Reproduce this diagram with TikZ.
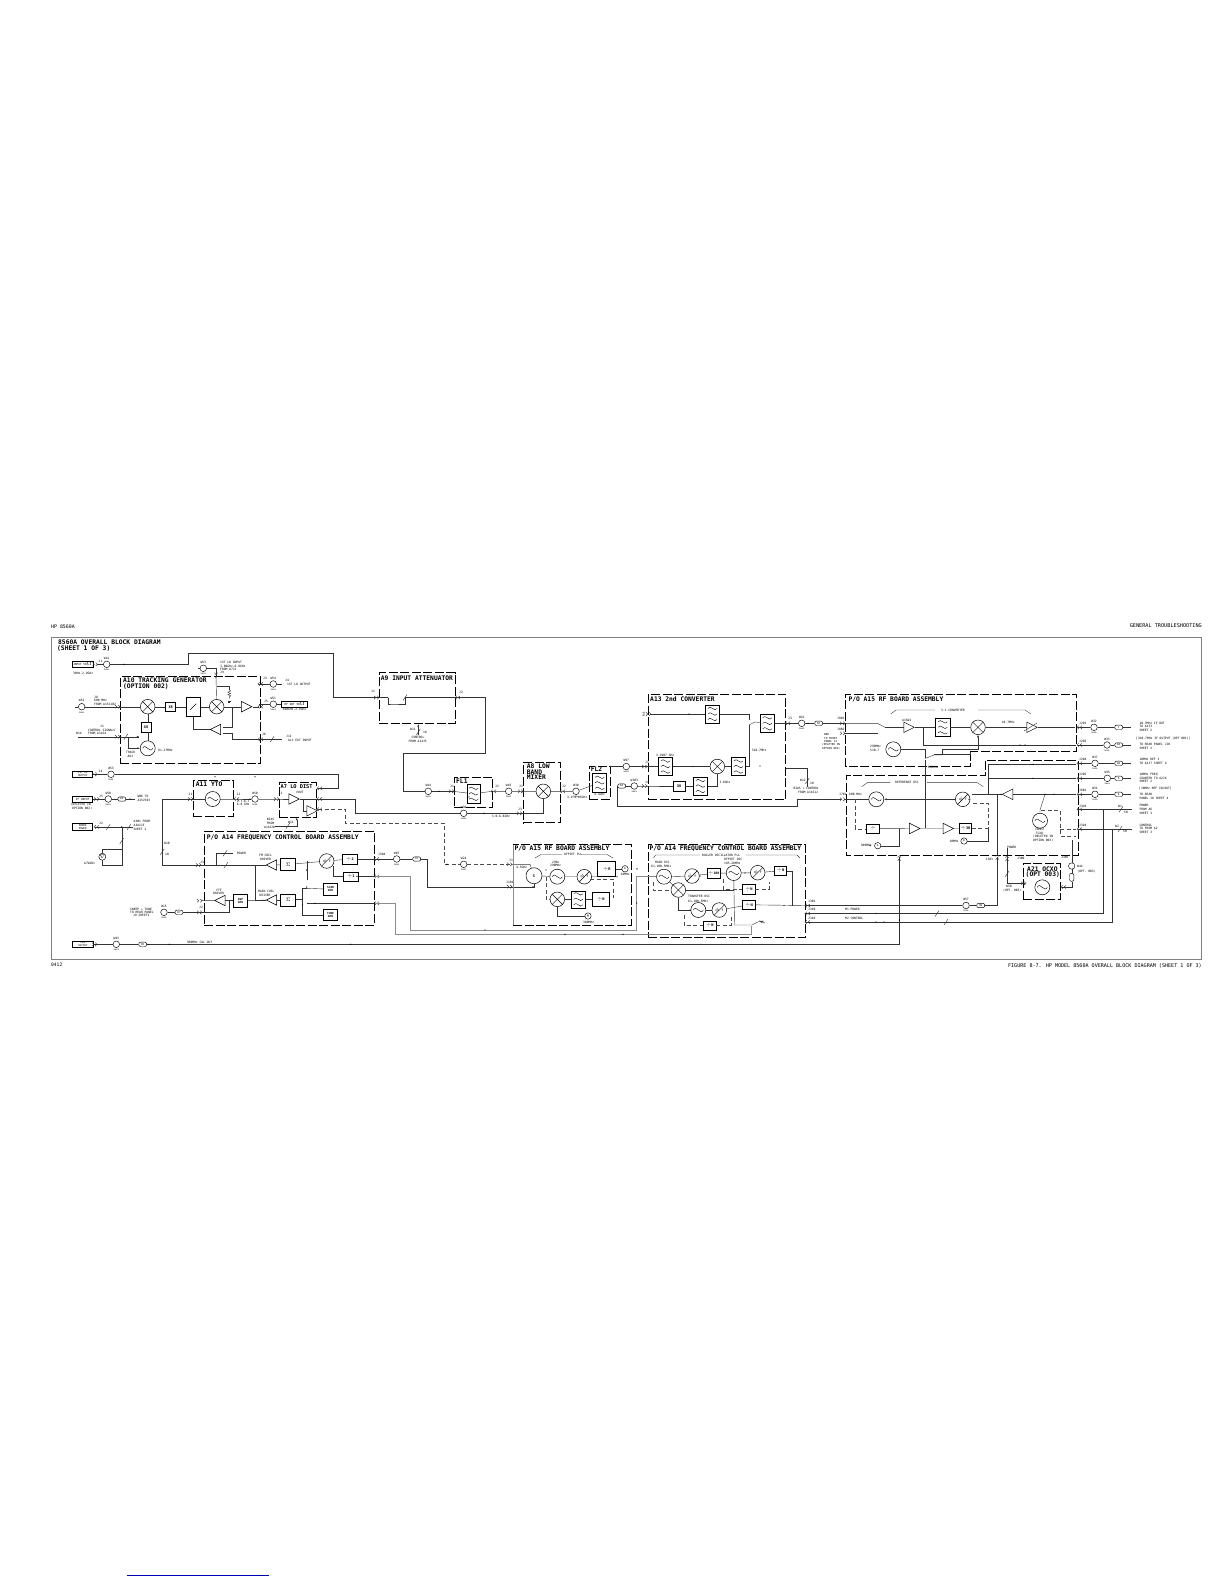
\documentclass[tikz,border=0pt]{standalone}
\usepackage{fontspec}
\setmainfont{DejaVu Sans Mono}
\usetikzlibrary{positioning,shapes.geometric,arrows.meta}

\tikzset{
  lbl/.style={font=\fontsize{3}{3.7}\selectfont,inner sep=0pt,align=left,anchor=west},
  head/.style={font=\bfseries\fontsize{6.3}{6.4}\selectfont,inner sep=0pt,anchor=west},
  sig/.style={line width=.4pt,black!80},
  gsig/.style={line width=.9pt,black!45},
  ctl/.style={line width=.4pt,black!70,dash pattern=on 4pt off 2.5pt},
  asm/.style={draw,line width=.8pt,dash pattern=on 9pt off 2.5pt,inner sep=0pt},
  blk/.style 2 args={draw,line width=.5pt,inner sep=0pt,minimum width=#1,minimum height=#2,font=\bfseries\fontsize{3.6}{3.8}\selectfont,align=center},
  port/.style 2 args={draw,line width=.5pt,inner sep=0pt,minimum width=#1,minimum height=#2,font=\fontsize{2.8}{3}\selectfont,align=center},
  cabl/.style={draw,circle,line width=.45pt,inner sep=0pt,minimum size=6.6pt},
  pill/.style={draw,rounded corners=2pt,line width=.45pt,inner sep=0pt,minimum width=8pt,minimum height=4.4pt,font=\fontsize{2.6}{3}\selectfont},
  mixr/.style={draw,circle,line width=.5pt,inner sep=0pt,minimum size=14.6pt,path picture={
    \draw[line width=.4pt] (path picture bounding box.north west)--(path picture bounding box.south east)
      (path picture bounding box.north east)--(path picture bounding box.south west);}},
  osc/.style={draw,circle,line width=.5pt,inner sep=0pt,minimum size=15pt,path picture={
    \draw[line width=.4pt,shift={(path picture bounding box.center)}] (-5,0) .. controls (-2.4,-6) and (2.4,6) .. (5,0);}},
  pdet/.style={draw,circle,line width=.5pt,inner sep=0pt,minimum size=14.6pt,font=\fontsize{3.4}{3.4}\selectfont,path picture={
    \draw[line width=.4pt] (path picture bounding box.south west)--(path picture bounding box.north east);}},
  filt/.style 2 args={draw,line width=.5pt,inner sep=0pt,minimum width=#1,minimum height=#2,path picture={
    \foreach \yw in {-5.5,0,5.5}{
      \draw[line width=.4pt,shift={(path picture bounding box.center)}] (-4.6,\yw) .. controls (-2,\yw-4.5) and (2,\yw+4.5) .. (4.6,\yw);}}},
  amp/.style={draw,isosceles triangle,isosceles triangle stretches,line width=.5pt,inner sep=0pt,minimum width=10.5pt,minimum height=10.5pt},
  ampl/.style={amp,shape border rotate=180},
  atag/.style={draw,circle,line width=.45pt,inner sep=0pt,minimum size=6.4pt,font=\fontsize{2.6}{3}\selectfont},
  jackpic/.pic={\draw[line width=.4pt,black!80] (-4,-1.7)--(-2.2,0)--(-4,1.7) (-.8,-1.7)--(1,0)--(-.8,1.7);}
}
\newcommand{\jack}[4]{\coordinate (#1) at (#2,#3); \pic[rotate=#4] at (#1) {jackpic};}
\newcommand{\cable}[4]{\node[cabl] (#1) at (#2,#3) {};
  \node[lbl,anchor=south,above=1.2pt of #1] (#1t) {#4};
  \node[lbl,anchor=north,below=.9pt of #1,font=\fontsize{2.2}{3}\selectfont] (#1b) {Semi};}

\begin{document}
\begin{tikzpicture}[x=1pt,y=-1pt]
\useasboundingbox (0,0) rectangle (1224,1584);

% page furniture
\node[lbl,font=\fontsize{4.9}{5}\selectfont] (hdl) at (51,626.5) {HP 8560A};
\node[lbl,font=\fontsize{5.2}{5}\selectfont,anchor=east] (hdr) at (1202,625.5) {GENERAL TROUBLESHOOTING};
\node[lbl,font=\fontsize{4.6}{5}\selectfont] (ftl) at (51,965) {0412};
\node[lbl,font=\fontsize{5.08}{5}\selectfont,anchor=east] (ftr) at (1202,966) {FIGURE 8-7. HP MODEL 8560A OVERALL BLOCK DIAGRAM (SHEET 1 OF 3)};
\draw[line width=.9pt,black!50] (51.5,637.5) rectangle (1201.7,959);
\draw[line width=1pt,blue!70!black] (127,1575.3) -- (269,1575.3);
\node[head] (ttl1) at (58,642) {8560A OVERALL BLOCK DIAGRAM};
\node[head] (ttl2) at (57,649) {(SHEET 1 OF 3)};

% assembly outlines
\node[asm,minimum width=140.3pt,minimum height=86.6pt] (a10) at (190.2,720) {};
\node[asm,minimum width=76pt,minimum height=50.6pt] (a9) at (417,698) {};
\node[asm,minimum width=40pt,minimum height=36.7pt] (a11) at (213.3,798.3) {};
\node[asm,minimum width=37.7pt,minimum height=35pt] (a7) at (297.8,800.2) {};
\node[asm,minimum width=170pt,minimum height=94pt] (a14a) at (289.3,878) {};
\node[asm,minimum width=38.4pt,minimum height=30pt] (fl1) at (473.5,792.3) {};
\node[asm,minimum width=37.4pt,minimum height=60.4pt] (a8) at (542,792.5) {};
\node[asm,minimum width=21pt,minimum height=33pt] (fl2) at (599.5,782.5) {};
\node[asm,minimum width=137.4pt,minimum height=105pt] (a13) at (717,746.8) {};
\node[asm,minimum width=117.7pt,minimum height=80.7pt] (a15a) at (572.2,884.7) {};
\node[asm,minimum width=156.7pt,minimum height=93pt] (a14b) at (726.7,890.8) {};
\node[asm,minimum width=37.4pt,minimum height=36pt] (a21) at (1042,881.3) {};
\draw[line width=.8pt,dash pattern=on 9pt off 2.5pt] (970,751.7) -- (970,766) -- (845.7,766) -- (845.7,694) -- (1076.7,694) -- (1076.7,751.7) -- cycle;
\draw[line width=.8pt,dash pattern=on 9pt off 2.5pt] (985,760.7) -- (985,775.7) -- (846,775.7) -- (846,855.7) -- (1078.3,855.7) -- (1078.3,760.7) -- cycle;

\node[head] (a10h1) at (123,680.3) {A10 TRACKING GENERATOR};
\node[head] (a10h2) at (123,687) {(OPTION 002)};
\node[head] (a9h) at (380.7,678.3) {A9 INPUT ATTENUATOR};
\node[head] (a11h) at (195.7,784) {A11 YTO};
\node[head,font=\bfseries\fontsize{5.3}{6}\selectfont] (a7h) at (280.5,786.7) {A7 LO DIST};
\node[head] (a14ah) at (206.7,837.3) {P/O A14 FREQUENCY CONTROL BOARD ASSEMBLY};
\node[head] (fl1h) at (456,781.5) {FL1};
\node[head] (a8h1) at (526.7,766.3) {A8 LOW};
\node[head] (a8h2) at (526.7,771.7) {BAND};
\node[head] (a8h3) at (526.7,777) {MIXER};
\node[head] (fl2h) at (590.7,769.5) {FL2};
\node[head] (a13h) at (650,699) {A13 2nd CONVERTER};
\node[head] (a15bh) at (848.3,699.7) {P/O A15 RF BOARD ASSEMBLY};
\node[head] (a15ah) at (514.3,848.3) {P/O A15 RF BOARD ASSEMBLY};
\node[head] (a14bh) at (649.3,849) {P/O A14 FREQUENCY CONTROL BOARD ASSEMBLY};
\node[head] (a21h1) at (1027,869) {A21 OCXO};
\node[head] (a21h2) at (1025.5,875) {(OPT 003)};

% A10 and its ports
\node[port={21pt}{5.7pt}] (rfin) at (82.5,664.3) {INPUT 50$\Omega$};
\cable{w41}{106.7}{664.3}{W41}
\jack{j1in}{96.5}{664.3}{0}
\jack{a9j1}{378}{697.5}{0}
\draw[sig] (j1in) -- (w41) -- (187.7,664.3) |- (333.3,653.3) |- (a9j1);
\node[lbl] (rfinf) at (73,673) {30Hz-2.9GHz};
\node[lbl] (j1l) at (98.5,661.5) {J1};
\node[mixr] (mx1) at (147.7,706.7) {};
\node[blk={10pt}{9.7pt}] (x8a) at (170.7,706.7) {X8};
\node[blk={14.7pt}{19.4pt},path picture={\draw[line width=.4pt] (path picture bounding box.center)++(-3,3)--++(6,-6);}] (var) at (193.3,706.7) {};
\node[mixr] (mx2) at (216.7,706.7) {};
\node[amp] (amp1) at (244.6,706.7) {};
\node[blk={10pt}{9.4pt}] (x8b) at (146,727.3) {X8};
\node[osc] (osc91) at (147.7,748.3) {};
\node[ampl] (alc) at (217.5,729.5) {};
\cable{w52}{81.7}{706.7}{W52}
\jack{j8}{119}{706.7}{0}
\jack{j9}{216}{676.7}{-90}
\jack{j3}{259}{684}{180}
\jack{j5}{259}{706.7}{180}
\jack{j6}{259}{739.3}{180}
\jack{j7}{119}{736.7}{0}
\coordinate (w52f) at (75,706.7);
\draw[sig] (w52f) -- (w52) -- (j8) -- (mx1) -- (x8a) -- (var) -- (mx2) -- (amp1) -- (j5);
\draw[sig] (mx1) -- (147.7,722.7);
\draw[sig] (147.7,732) -- (osc91);
\draw[sig] (j9) -- (mx2);
\draw[sig] (216.7,686) -| (229.3,690);
\draw[sig] (229.3,690) -- ++(1.5,1) -- ++(-3,1.2) -- ++(3,1.2) -- ++(-3,1.2) -- ++(3,1.2) -- ++(-1.5,1) -- ++(0,1.5);
\draw[sig] (227.7,701) -- ++(3.2,0) ++(-2.6,1) -- ++(2,0);
\draw[sig] (alc) -| (var);
\draw[sig] (223,726.7) -- (231.7,726.7) -- (231.7,706.7);
\draw[sig] (223,732.7) -- (231.7,732.7) -- (231.7,739.3) -- (j6);
\coordinate (w14f) at (78,736.7);
\draw[sig] (w14f) -- (j7) -- (139,736.7);
\draw[sig,-{Latex[length=2.5pt,width=2pt]}] (128.3,736.7) |- (osc91);
\draw[sig,-{Latex[length=2.5pt,width=2pt]}] (120,736.7) -- (139.3,736.7);
\node[lbl] (j8l) at (94,697.3) {J8};
\node[lbl] (j8a) at (94,700.7) {600 MHz};
\node[lbl] (j8b) at (94,704) {FROM A15J102};
\node[lbl] (j1b) at (100,726.5) {J1};
\node[lbl] (ctl1) at (88,730.3) {CONTROL SIGNALS};
\node[lbl] (ctl2) at (88,733.7) {FROM A14J4};
\node[lbl] (w14l) at (76,733.3) {W14};
\node[lbl] (trk1) at (126,752) {TRACK};
\node[lbl] (trk2) at (127.5,756) {ADJ};
\node[lbl] (f91) at (158,750) {91.27MHz};
\cable{w53}{203.3}{668.3}{W53}
\coordinate (w53f) at (198,668.3);
\draw[sig] (w53f) -- (w53) -| (j9);
\node[lbl] (lo1) at (220,662.3) {1ST LO INPUT};
\node[lbl] (lo2) at (220,666) {3.80GHz-6.8GHz};
\node[lbl] (lo3) at (220,669.7) {FROM A7J2};
\node[lbl] (j9l) at (220,672.7) {J9};
\cable{w54}{273.3}{684}{W54}
\coordinate (j4f) at (282,684);
\draw[sig] (j3) -- (w54) -- (j4f);
\node[lbl] (j3l) at (263,678) {J3};
\node[lbl] (j4l) at (285,680) {J4};
\node[lbl] (j4t) at (287,684.5) {1ST LO OUTPUT};
\node[port={26pt}{5.7pt}] (rfo) at (294.7,704.2) {RF OUT 50$\Omega$};
\cable{w51}{273.3}{704.2}{W51}
\draw[sig] (259,704.2) -- (w51) -- (rfo);
\node[lbl] (j5l) at (264,701.5) {J5};
\node[lbl] (rfof) at (282.5,709.5) {300kHz-2.9GHz};
\coordinate (j11f) at (282,739.3);
\draw[sig] (j6) -- (j11f);
\node[lbl] (j6l) at (262,734) {J6};
\node[lbl] (j11l) at (286,736) {J11};
\node[lbl] (j11t) at (288,740.3) {ALC EXT INPUT};

% A9
\coordinate (a9j2) at (456,697.5);
\jack{a9r}{456}{697.5}{180}
\jack{fl1i}{453}{791.3}{0}
\cable{w44}{428.3}{791.3}{W44}
\draw[sig] (a9j1) -- (388,697.5) (388,697.5) |- (392,704) -| (405,697.5);
\draw[sig] (405,697.5) -- (a9j2) -- (484.7,697.5) |- (403.3,753.3) |- (w44) -- (fl1i);
\node[lbl] (a9l1) at (371,691.7) {J1};
\node[lbl] (a9l2) at (459,692.5) {J2};
\coordinate (a9ct) at (418.3,735);
\draw[sig,-{Latex[length=2.5pt,width=2pt]}] (a9ct) -- (418.3,724);
\node[lbl] (w11l) at (410,729.5) {W11};
\node[lbl] (w11n) at (423,732) {16};
\node[lbl] (c1) at (411.5,737.5) {CONTROL};
\node[lbl] (c2) at (408.5,741) {FROM A14J5};

% YTO and LO distribution
\node[osc] (yto) at (212.7,799) {};
\node[amp] (amp7a) at (292,799) {};
\node[amp] (amp7b) at (310,810.8) {};
\cable{w50}{255}{799}{W50}
\jack{ytoi}{192}{799}{0}
\jack{ytoo}{235}{799}{180}
\jack{a7i}{278}{799}{0}
\jack{a7t}{318}{788.3}{180}
\jack{a7r}{318}{799}{180}
\jack{a7d}{318}{809.3}{180}
\jack{ya3}{200}{865}{0}
\draw[sig] (yto) -- (ytoo) -- (w50) -- (a7i) -- (amp7a) -- (a7r);
\draw[sig] (ytoi) -- (yto);
\draw[sig] (ya3) -| (162.3,799) -- (ytoi);
\draw[sig] (303,799) -- (303,810.8) -- (amp7b);
\draw[sig] (amp7b) -- (a7d);
\node[port={20pt}{6.7pt},font=\fontsize{2.6}{2.8}\selectfont] (lobox) at (82.7,774.3) {1ST LO\\OUTPUT};
\cable{w53b}{111}{774.3}{W53}
\draw[sig] (lobox) -- (w53b) -- (338.3,774.3) |- (a7t);
\jack{jlo}{96}{774.3}{0}
\node[lbl] (jlol) at (98.5,771) {J4};
\node[lbl] (y1) at (188.5,794.5) {J1};
\node[lbl] (y2) at (236.5,794.5) {J2};
\node[lbl] (yf1) at (236.7,801.5) {2.7-6.7};
\node[lbl] (yf2) at (236.7,804.7) {6.8 GHz};
\node[lbl] (a7j) at (278.5,793) {J1};
\node[lbl] (a7v) at (296,792) {VOUT};
\node[lbl] (wbl) at (164,843.5) {W10};
\node[lbl] (wbn) at (165,854) {10};
\node[lbl] (b1) at (266.7,819.3) {BIAS};
\node[lbl] (b2) at (266.7,823) {FROM};
\node[lbl] (b3) at (264,827) {A14J20};
\coordinate (bf) at (275,825.7);
\draw[sig,-{Latex[length=2.5pt,width=2pt]}] (bf) -| (296.7,817.7);
\node[lbl] (w11b) at (288,822.5) {W11};
% LO to the mixer and dashed drive
\cable{w30}{463.7}{813.3}{W30}
\jack{a8j3}{521}{813.3}{0}
\draw[sig] (a7r) -- (355,799) |- (w30) -- (a8j3);
\node[lbl] (w30f) at (491.7,816) {3.0-6.8GHz};
\cable{w24}{463.7}{864.3}{W24}
\jack{a15j1}{511}{864.3}{0}
\draw[ctl] (a7d) -- (345,809.3) |- (444,823) -- (444,864.3) -- (w24) -- (a15j1);

% IF input, probe power
\node[port={20pt}{6pt}] (ifin) at (82.7,799) {IF INPUT};
\cable{w50b}{108.3}{799}{W50}
\node[pill] (p80) at (121.8,799) {80};
\coordinate (iff) at (135,799);
\draw[sig] (ifin) -- (w50b) -- (p80) -- (iff);
\jack{jif}{98}{799}{0}
\node[lbl] (if1) at (137.3,796) {W06 TO};
\node[lbl] (if2) at (137.3,800) {A15J503};
\node[lbl] (if3) at (70.7,805) {(DELETED IN};
\node[lbl] (if4) at (72,809) {OPTION 002)};
\node[lbl] (ifj) at (99,796) {J5};
\node[port={20pt}{7.4pt},font=\fontsize{2.6}{2.8}\selectfont] (prb) at (82.7,826.9) {PROBE\\POWER};
\jack{jprb}{95}{826.9}{180}
\coordinate (prbf) at (132.7,826.9);
\draw[sig] (jprb) -- (prbf);
\node[lbl] (prbj) at (99,823.5) {J2};
\node[lbl] (a3a) at (133.5,821.7) {A3W1 FROM};
\node[lbl] (a3b) at (133.5,825) {A3A1J3};
\node[lbl] (a3c) at (133.5,829) {SHEET 2};
\node[draw,circle,line width=.45pt,inner sep=0pt,minimum size=7pt,font=\fontsize{3.5}{3.5}\selectfont] (dio) at (102.3,856.7) {$\nabla$};
\draw[sig] (121.7,826.9) -- (121.7,865.5) -| (dio);
\draw[sig] (121.7,849.3) -| (dio);
\node[lbl] (diol) at (84,863.3) {A7W1D1};

% A14 first part
\node[ampl] (fmdr) at (273.5,865) {};
\node[blk={15pt}{12.4pt}] (sumf) at (288.2,864.5) {$\Sigma$};
\node[pdet] (pd14) at (326.7,861) {$\phi$ f};
\node[blk={15pt}{10pt}] (div2) at (350,859) {$\div$2};
\node[blk={15pt}{9.3pt}] (div1) at (350.8,876.4) {$\div$1};
\node[ampl] (mndr) at (273.5,900) {};
\node[blk={15pt}{12.4pt}] (summ) at (288.2,900) {$\Sigma$};
\node[ampl] (ytf) at (222,900.5) {};
\node[blk={14.4pt}{12.7pt},font=\bfseries\fontsize{2.8}{3}\selectfont] (swp) at (240.5,900.5) {SWP\\GEN};
\node[blk={14.4pt}{11.7pt},font=\bfseries\fontsize{2.8}{3}\selectfont] (scan) at (330.5,889.2) {SCAN\\GEN};
\node[blk={14.4pt}{11.4pt},font=\bfseries\fontsize{2.8}{3}\selectfont] (tune) at (330.5,915) {TUNE\\GEN};
\jack{j14a}{375}{859}{180}
\jack{j14b}{375}{876.4}{180}
\jack{j14c}{375}{903.3}{180}
\jack{j14d}{201}{900.7}{0}
\jack{j14e}{201}{912.3}{0}
\draw[sig] (ya3) -- (255,865) -- (fmdr);
\draw[sig] (215.7,865) |- (233,853.3);
\coordinate (pwrf) at (233,853.3);
\node[lbl] (pwr) at (236.7,853.7) {POWER};
\draw[sig] (255,865) -- (255,900) -- (mndr);
\draw[sig] (swp) -- (mndr);
\draw[sig] (ytf) -- (j14d);
\draw[sig] (ytf) -- (swp);
\draw[sig] (j14e) -| (229,900.5);
\draw[sig] (sumf) -- (pd14);
\draw[sig] (fmdr) -- (sumf);
\draw[sig] (mndr) -- (summ);
\draw[sig] (pd14) -- (div2);
\draw[sig] (div2) -- (j14a);
\draw[sig] (div1) -- (j14b);
\draw[sig] (333,866) |- (div1);
\draw[sig] (306.7,860.7) -- (306.7,880);
\draw[sig] (306.7,888.3) -- (scan);
\draw[sig] (302.5,899) |- (306.7,888.3);
\draw[sig] (302.5,899) -- (302.5,915) -- (tune);
\draw[sig] (295.7,899) -- (302.5,899);
\draw[sig] (306.7,903.3) -- (j14c);
\node[lbl] (fm1) at (259,855.3) {FM COIL};
\node[lbl] (fm2) at (260,859) {DRIVER};
\node[lbl] (mc1) at (258,891) {MAIN COIL};
\node[lbl] (mc2) at (259.5,895) {DRIVER};
\node[lbl] (yt1) at (216,890) {YTF};
\node[lbl] (yt2) at (213,893.7) {DRIVER};
\cable{w15}{164}{912.3}{W15}
\node[pill] (p87) at (179,912.3) {87};
\draw[sig] (j14e) -- (p87) -- (w15);
\node[lbl] (sw1) at (130,909) {SWEEP + TUNE};
\node[lbl] (sw2) at (130,912.3) {TO REAR PANEL};
\node[lbl] (sw3) at (133,915.7) {J8 SHEET2};
\node[lbl] (j14l) at (199,907) {J2};
\node[lbl] (j14j) at (200,862) {J3};

% cal output line
\node[port={20.6pt}{6.3pt},font=\fontsize{2.5}{2.7}\selectfont] (cal) at (83,944.3) {CAL\\OUTPUT};
\cable{w43}{116.3}{944.3}{W43}
\node[pill] (p85) at (142.7,944.3) {85};
\draw[sig] (cal) -- (w43) -- (p85) -- (899.3,944.3) -- (899.3,856.7);
\jack{jcal}{96}{944.3}{0}
\node[lbl] (cals) at (186.7,942) {300MHz CAL OUT};

% FL1, A8, FL2
\node[filt={13pt}{19pt}] (ff1) at (473.5,793.8) {};
\node[mixr] (mx8) at (543.3,791.3) {};
\node[filt={14pt}{19pt}] (ff2) at (599.7,782.8) {};
\jack{fl1o}{492}{791.3}{180}
\cable{w45}{508.7}{791.3}{W45}
\jack{a8i}{522}{791.3}{0}
\jack{a8o}{561}{791.3}{180}
\cable{w30b}{576}{791.3}{W30}
\draw[sig] (fl1i) -- (ff1) -- (fl1o) -- (w45) -- (a8i) -- (mx8) -- (a8o) -- (w30b) -- (ff2);
\draw[sig] (a8j3) -| (mx8);
\node[lbl] (fl1a) at (450,786) {J1};
\node[lbl] (fl1b) at (495,786.5) {J2};
\node[lbl] (a8a) at (519,786) {J1};
\node[lbl] (a8b) at (562,786.5) {J2};
\node[lbl] (a8c) at (518,809) {J3};
\node[lbl] (f39) at (567,797.7) {3.9-4.05GHz};
\node[lbl] (f43) at (594,794.7) {4.3GHz};

% A13
\node[filt={13.6pt}{17.7pt}] (f13t) at (712.5,714) {};
\node[filt={13.3pt}{18pt}] (f13o) at (767.3,723.3) {};
\node[filt={13.6pt}{18.4pt}] (f13m) at (738.5,766.5) {};
\node[mixr] (mx13) at (717.3,766.5) {};
\node[filt={14.4pt}{17.7pt}] (f13i) at (665.5,766.5) {};
\node[blk={11.7pt}{9.6pt}] (x8c) at (679.2,786) {X8};
\node[filt={14.4pt}{18.4pt}] (f13l) at (700.5,786) {};
\cable{w97}{626.3}{766.5}{W97}
\jack{j13a}{646}{766.5}{0}
\jack{j13b}{646}{786}{0}
\jack{j13c}{650}{714}{0}
\node[pill] (p81) at (621.7,786) {81};
\cable{w103}{634.3}{786}{W103}
\draw[sig] (610,766.5) -- (w97) -- (j13a) -- (f13i) -- (mx13) -- (f13m);
\draw[sig] (j13c) -- (f13t) -| (749,720);
\draw[sig] (f13m) -| (749,725);
\draw[sig] (749,725) -- (755,722) -- (f13o);
\draw[sig] (p81) -- (w103) -- (j13b) -- (x8c) -- (f13l) -| (mx13);
\draw[sig] (p81) -- (617.3,786) |- (796.7,806) |- (841,799.3);
\node[lbl] (rl) at (643.8,714) [rotate=90,anchor=center] {R/L};
\node[lbl] (f1) at (656,755.7) {3.9107 GHz};
\node[lbl] (f2) at (751.7,750.3) {310.7MHz};
\node[lbl] (f3) at (719.3,782.7) {3.6GHz};
\node[lbl] (j13l) at (645,762.3) {J1};
\node[lbl] (j13m) at (645,782.3) {J4};
\cable{w31}{801.7}{723.3}{W31}
\node[pill] (p82) at (818.7,723.3) {82};
\jack{j801}{844}{723.3}{0}
\jack{j802}{844}{733.3}{0}
\jack{j13o}{786}{723.3}{180}
\draw[sig] (f13o) -- (j13o) -- (w31) -- (p82) -- (j801);
\node[lbl] (j3b) at (788,718.5) {J3};
\node[lbl] (j801l) at (837,718.5) {J801};
\node[lbl] (j802l) at (837,729.5) {J802};
\node[lbl,font=\fontsize{2.7}{3.3}\selectfont] (w06) at (824,733.5) [anchor=north west] {W06\\TO FRONT\\PANEL J5};
\node[lbl,font=\fontsize{2.7}{3.3}\selectfont] (w06b) at (822,743.5) [anchor=north west] {(DELETED IN\\OPTION 002)};
\coordinate (bb) at (807.3,786.7);
\draw[sig] (786,767.7) -| (bb);
\node[lbl] (w12l) at (800,780) {W12};
\node[lbl] (w12n) at (810,783) {10};
\node[lbl] (bc1) at (793.3,788.7) {BIAS + CONTROL};
\node[lbl] (bc2) at (798,792.3) {FROM A14J12};
\node[lbl] (j701) at (839,794) {J701};
\jack{j701j}{844}{799.3}{0}

% A15 upper part
\node[amp] (am15) at (907,727.3) {};
\node[filt={14.7pt}{17.7pt}] (f15) at (942.7,727.3) {};
\node[mixr] (mx15) at (978,727.3) {};
\node[amp] (am15b) at (1030,727.3) {};
\node[osc] (o15) at (893.3,749.3) {};
\coordinate (sw15) at (885,727.3);
\draw[sig] (j801) -- (877.3,723.3) -- (sw15);
\draw[sig] (j802) -- (878,733.3);
\draw[sig] (sw15) -- (am15) -- (f15) -- (mx15) -- (am15b);
\draw[sig] (am15b) -- (1075,727.3);
\draw[sig] (922.7,727.3) |- (1076,745);
\draw[sig,-{Latex[length=2.5pt,width=2pt]}] (942.3,755) |- (978,749) -- (mx15);
\draw[sig] (925,758.5) -- (934,755) -- (942.3,755);
\draw[sig] (o15) -| (925,758);
\draw[sig] (1024,731) -- (1037,723);
\node[lbl] (a15w) at (902,720) {A15W1};
\node[lbl] (f107) at (1001.7,722.5) {10.7MHz};
\node[lbl] (s3) at (941,710) {3-1 CONVERTER};
\draw[sig] (890.7,714) -- (896,710) -- (935,710);
\draw[sig] (978,710) -- (1025,710) -- (1031,714);
\node[lbl] (of1) at (870,746.7) {299MHz};
\node[lbl] (of2) at (870,750) {510.7};
\node[lbl] (f300) at (927.5,767.7) {300MHz};
\draw[sig] (925,760) -- (925,828.3);
\draw[sig] (970,751.7) -- (970,754) -- (934,754);

% reference section
\node[osc] (oref) at (876.3,799.3) {};
\node[pdet] (pdref) at (962.7,799.3) {$\phi$ f};
\node[ampl] (amr) at (1009.5,794.3) {};
\node[blk={12.6pt}{8.7pt}] (boxr) at (873,828.7) {$\div$};
\node[amp] (amr1) at (912.7,828.5) {};
\node[amp] (amr2) at (946.3,828.5) {};
\node[blk={12.4pt}{10pt}] (d30) at (965.5,828.5) {$\div$30};
\node[atag] (tagA) at (877.7,845.7) {A};
\node[atag] (tagB) at (964,841) {B};
\node[osc] (tcxo) at (1040,820.7) {};
\node[lbl] (rsc) at (895,782.7) {REFERENCE OSC};
\draw[sig] (861.7,786.7) -- (867.7,782.3) -- (890,782.3);
\draw[sig] (927,782.3) -- (976.7,782.3) -- (983.3,786.7);
\node[lbl] (f600) at (849,794.3) {600 MHz};
\node[lbl] (f3a) at (860.7,845.7) {300MHz};
\node[lbl] (f3b) at (949.3,841) {10MHz};
\draw[sig] (j701j) -- (oref);
\draw[sig,-{Latex[length=2.5pt,width=2pt]}] (pdref) -- (oref);
\draw[sig] (972,794.3) -- (amr);
\draw[sig] (amr) -- (1076,794.3);
\draw[ctl] (855,799.3) |- (boxr);
\draw[sig] (boxr) -- (amr1) -- (amr2) -- (d30);
\draw[ctl] (d30) -- (987.7,828.5) |- (971,802.7);
\draw[sig] (tagB) -| (987.7,828.5);
\draw[sig] (899.3,828.5) |- (tagA);
\draw[sig] (988.3,794.3) |- (1076,764.3);
\draw[sig] (988.3,778.3) -- (1076,778.3);
\draw[sig] (997.3,794.3) -- (997.3,855);
\draw[sig] (1045,794.3) -- (1040,810) -- (tcxo);
\node[lbl] (tc1) at (1035,829.5) {10MHz};
\node[lbl] (tc2) at (1035.5,833) {TCXO};
\node[lbl] (tc3) at (1033,837) {(DELETED IN};
\node[lbl] (tc4) at (1033,840.5) {OPTION 003)};
\draw[ctl] (1041,810) -- (1060,810) -- (1060,835.7) -- (1076,835.7);
\draw[ctl] (1060,829) -- (1076,829);

% outputs on the right
\jack{j201}{1078}{727.3}{180}
\jack{j203}{1078}{745}{180}
\jack{j204}{1078}{763.3}{180}
\jack{j202}{1078}{778.3}{180}
\jack{j601}{1078}{794.3}{180}
\jack{j310}{1078}{809.3}{180}
\jack{j311}{1078}{829}{180}
\cable{w32}{1094}{727.3}{W32}
\cable{w33}{1107}{745}{W33}
\cable{w37}{1095}{763.3}{W37}
\cable{w35}{1107.3}{778.3}{W35}
\cable{w36}{1095}{794.3}{W31}
\node[pill] (p7) at (1118.7,727.3) {7};
\node[pill] (p84) at (1118.7,745) {84};
\node[pill] (p88) at (1118.7,763.3) {88};
\node[pill] (p5) at (1118.7,778.3) {5};
\node[pill] (p6) at (1118.7,794.3) {6};
\foreach \nm/\wname/\pn/\yo in {j201/w32/p7/727.3,j203/w33/p84/745,j204/w37/p88/763.3,j202/w35/p5/778.3,j601/w36/p6/794.3}{
  \draw[sig] (\nm) -- (\wname) -- (\pn) -- (1131,\yo);
}
\coordinate (pwo) at (1132,809.3);
\coordinate (cto) at (1132,829);
\draw[sig] (j310) -- (pwo);
\draw[sig] (j311) -- (cto);
\draw[sig] (1102.7,809.3) |- (805,913.5);
\draw[sig] (1111.7,829) |- (805,922);
\foreach \nm/\xn/\yn/\tx in {l201/1079/723.5/J201,l203/1079/741/J203,l204/1079/759.5/J204,l202/1079/774.5/J202,l601/1079/790/J601,l310/1079/806/J310,l311/1079/825.5/J310}{
  \node[lbl] (\nm) at (\xn,\yn) {\tx};
}
\foreach \nm/\yn/\tx in {o1/723/10.7MHz IF OUT,o2/726.7/TO A3J3,o3/730.7/SHEET 2,o4/744/TO REAR PANEL J10,o5/748.3/SHEET 2,o6/759/10MHz REF 3,o7/763/TO A3J7 SHEET 4,o8/774.3/10MHz FREQ,o9/778/COUNTER TO A2J6,o10/781.7/SHEET 2,o11/794/TO REAR,o12/798.3/PANEL J8 SHEET 4,o13/805.7/POWER,o14/809.3/FROM A6,o15/813.3/SHEET 3,o16/825/CONTROL,o17/828.7/TO FROM A2,o18/832.7/SHEET 3}{
  \node[lbl] (\nm) at (1139.3,\yn) {\tx};
}
\node[lbl] (o19) at (1136,739) {[310.7MHz IF OUTPUT (OPT 001)]};
\node[lbl] (o20) at (1139,788.5) {[10MHz REF IN/OUT]};
\node[lbl] (w1a) at (1118,806) {W1};
\node[lbl] (w1b) at (1124,812) {50};
\node[lbl] (w1c) at (1115,826) {W2};
\node[lbl] (w1d) at (1123,831.5) {50};

% lower A15
\node[circle,draw,line width=.5pt,inner sep=0pt,minimum size=16pt,font=\bfseries\fontsize{3.6}{4}\selectfont] (sumo) at (534,875.7) {S};
\node[osc] (o15b) at (557.3,876.7) {};
\node[pdet] (pd15) at (584.3,876.7) {$\phi$ f};
\node[blk={18pt}{14.3pt}] (divr) at (606.7,868.8) {$\div$R};
\node[atag] (tag8) at (625,868.8) {8};
\node[mixr] (mx15b) at (557.3,899.3) {};
\node[filt={14.7pt}{17pt}] (f15b) at (578.3,899.3) {};
\node[blk={17pt}{14pt}] (divn) at (600.8,899.3) {$\div$N};
\node[atag] (tagA2) at (588,916) {A};
\jack{a15j101}{511}{886.7}{0}
\draw[sig] (a15j1) -- (530,864.3) -- (sumo);
\draw[sig] (a15j101) -| (sumo);
\draw[gsig] (513.3,845) -- (513.3,925);
\draw[sig] (sumo) -- (o15b) -- (pd15) -- (597.7,876.7);
\draw[sig] (divr) -- (tag8);
\draw[ctl] (546,876.7) |- (mx15b);
\draw[ctl] (590,879) -- (613,879) -- (613,898);
\draw[sig] (mx15b) -- (f15b) -- (divn);
\draw[sig] (tagA2) -| (mx15b);
\node[lbl] (f15a) at (552,862) {290+};
\node[lbl] (f15c) at (550,865.5) {290MHz};
\node[lbl] (opll) at (564,854.5) {OFFSET PLL};
\draw[sig] (535,858) -- (541,854.5) -- (562,854.5);
\draw[sig] (581,854.5) -- (607,854.5) -- (613,858);
\node[lbl] (f45) at (516,867.3) {4.5GHz};
\node[lbl] (j101l) at (506,882) {J101};
\node[lbl] (j1l5) at (509,860) {J1};
\node[lbl] (f10) at (620.5,874) {10MHz};
\node[lbl] (f300b) at (583,922.3) {300MHz};
\cable{w07}{396.7}{859}{W07}
\node[pill] (p97) at (416.7,859) {97};
\draw[sig] (j14a) -- (w07) -- (p97) -- (427.3,859) |- (a15j101);
\node[lbl] (j504) at (378,854.7) {J504};

% lower A14
\node[osc] (omain) at (664,876.7) {};
\node[pdet] (pdm) at (692,876) {$\phi$ f};
\node[blk={12.7pt}{9.7pt},font=\bfseries\fontsize{3.2}{3.4}\selectfont] (d100) at (713.7,873.2) {$\div$100};
\node[osc] (ooff) at (733.7,873) {};
\node[pdet] (pdo) at (757.7,872.7) {$\phi$ f};
\node[blk={12.4pt}{9.3pt}] (dnt) at (780.5,870.7) {$\div$N};
\node[blk={12.3pt}{9.7pt}] (dnd) at (748.8,889.2) {$\div$N};
\node[mixr] (mxb) at (678.3,890) {};
\node[osc] (otr) at (698.3,910) {};
\node[pdet] (pdt) at (719.3,910) {$\phi$ f};
\node[blk={12.6pt}{9pt}] (dnm) at (749,904.8) {$\div$N};
\node[blk={12.7pt}{9pt}] (dnl) at (709.7,925.5) {$\div$N};
\node[lbl] (ropll) at (702,855) {ROLLER OSCILLATOR PLL};
\draw[sig] (653.5,858) -- (655.5,855) -- (700,855);
\draw[sig] (746,855) -- (797,855) -- (800,858);
\jack{j301}{806}{905.5}{180}
\jack{j3b}{806}{913.5}{180}
\jack{j3c}{806}{922}{180}
\draw[gsig] (omain) -- (636.7,876.7) -- (636.7,930) -- (410.7,930) -- (410.7,876.4) -- (j14b);
\draw[gsig] (j14c) -- (395,903.3) -- (395,934.3) -- (751.7,934.3) -- (751.7,926);
\draw[sig] (pdm) -- (omain);
\draw[sig] (d100) -- (pdm);
\draw[sig] (ooff) -- (d100);
\draw[sig] (pdo) -- (ooff);
\draw[sig] (dnt) -- (pdo);
\draw[sig] (dnt) -- (791.7,870.7) -- (791.7,905.5);
\draw[sig] (dnm) -- (j301);
\draw[sig] (pdt) -- (dnm);
\draw[sig] (otr) -- (pdt);
\draw[sig] (mxb) |- (otr);
\draw[sig] (mxb) -- (omain);
\draw[sig] (mxb) -- (733.7,890);
\draw[sig] (ooff) -- (734.5,925) -- (751.7,925);
\draw[sig] (751.7,925) -- (760,921) -- (763.3,921) arc (0:180:1.7) -- (765,923);
\draw[ctl] (653.3,882) |- (671,890);
\draw[ctl] (723.3,879) |- (dnd);
\draw[ctl] (dnd) -| (769.3,882);
\draw[ctl] (684,915) |- (dnl);
\draw[ctl] (dnl) -| (731,917);
\node[lbl] (mo1) at (655,862.7) {MAIN OSC};
\node[lbl] (mo2) at (651,866.7) {61-100.5MHz};
\node[lbl] (oo1) at (724,859.3) {OFFSET OSC};
\node[lbl] (oo2) at (724,863.3) {185-20MHz};
\node[lbl] (to1) at (688,896.7) {TRANSFER OSC};
\node[lbl] (to2) at (688,901) {61-100.5MHz};
\node[lbl] (j301l) at (808,901.5) {J301};
\node[lbl] (j31l) at (808,909.7) {J310};
\node[lbl] (j32l) at (808,918) {J310};
\node[lbl] (m1) at (845,909) {M1 POWER};
\node[lbl] (m2) at (845,918) {M2 CONTROL};

% A21 and the lines under the reference section
\node[osc] (oocx) at (1042.3,887.3) {};
\cable{w57}{966}{905.5}{W57}
\node[pill] (p90) at (980.7,905.5) {90};
\draw[sig] (j301) -- (w57) -- (p90) -- (997.3,905.5) -- (997.3,857);
\jack{j21i}{1025}{883.3}{0}
\jack{j21o}{1062}{887}{180}
\jack{j300}{1007}{857}{90}
\draw[sig] (j300) |- (j21i);
\draw[sig] (1007,855) -- (1007,847.7);
\node[lbl] (pw21) at (1007,847.7) {POWER};
\node[lbl] (j300l) at (1017,858.3) {J300};
\node[lbl] (j303l) at (985.5,859.3) {J303};
\node[lbl] (w50o) at (1006,886) {W50};
\node[lbl] (w50p) at (1003,890.3) {(OPT. 003)};
\node[draw,circle,line width=.45pt,inner sep=0pt,minimum size=6.4pt] (w44o) at (1071.7,866) {};
\node[pill,minimum width=4.4pt,minimum height=8pt] (p44) at (1071.7,877.3) {};
\draw[sig] (j21o) -| (p44);
\draw[sig] (p44) -- (w44o) -- (1071.7,840);
\node[lbl] (w44l) at (1077,866) {W44};
\node[lbl] (w44p) at (1077.3,871.7) {(OPT. 003)};
\node[lbl] (j305l) at (1061,857.7) {J305};

% through-board jacks
\jack{jcut}{899.3}{856.7}{90}
\jack{jcutb}{997.3}{855.7}{90}

% slashes on cable runs
\foreach \xs/\ys in {162.3/851.7,405/697.5,418.3/732,288/825.7,225/853.3,226/865,
  108.3/826.9,129/826.9,121.7/841,126/736.7,272/739.3,1121/809.3,1120/829,937/913.5,946/922,807.3/781,1007/874}{
  \draw[sig] (\xs-2,\ys+3) -- (\xs+2,\ys-3);
}
% flow dots along the lines
\foreach \xd/\yd in {124/664.3,215/776.7,255/776.7,250/799,130/799,121.7/826.9,469/797,
  484/813.3,439/791.3,693/766.5,689/714,760/766,808/723.3,1020/745,969/799.3,870/845.7,
  1001/794.3,1045/794.3,1054/794.3,1033/778.3,1033/764.3,1025/745,306.7/870,357/876.4,
  315/903.3,306.7/887,302.5/905,148/944.3,169.3/944.3,350.7/944.3,899.3/920,
  485/930,565/934.3,623/934.3,636.7/903,447/864.3,588/916,533/886.7,637/868.8,
  617/876.7,546/870,700/876,745/873,784/905.5,876/913.5,876/922,884/922,690/910}{
  \fill (\xd,\yd) circle (.7pt);
}
\end{tikzpicture}
\end{document}
